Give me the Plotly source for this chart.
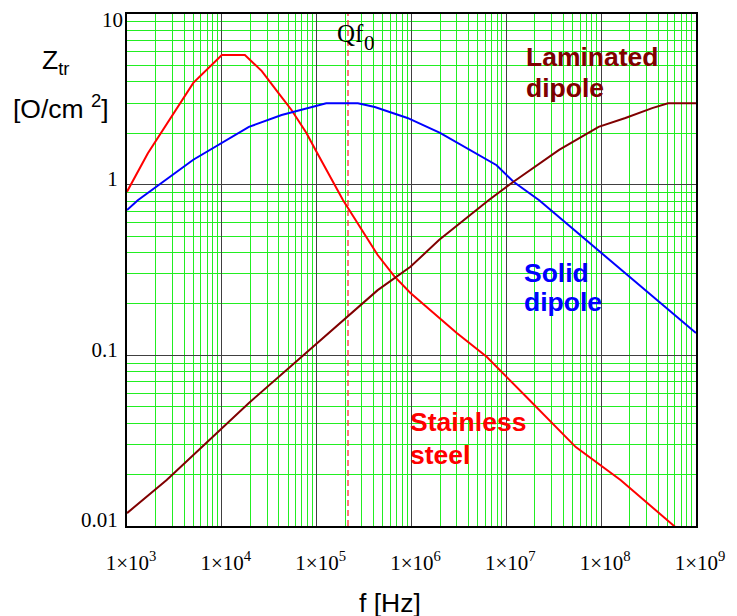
import numpy as np
import plotly.graph_objects as go

# ---- data ----
steel_f = [1e3, 1.66e3, 5.0e3, 1.0e4, 1.75e4, 2.64e4, 3.96e4, 5.43e4, 7.8e4, 9.7e4,
           1.9e5, 4.4e5, 6.6e5, 9.75e5, 3.0e6, 6.2e6, 1.63e7, 5.4e7, 1.6e8, 6.0e8]
steel_z = [0.91, 1.53, 3.95, 5.75, 5.75, 4.63, 3.44, 2.74, 2.01, 1.60,
           0.81, 0.387, 0.29, 0.232, 0.135, 0.098, 0.057, 0.029, 0.0186, 0.0099]

solid_f = [1e3, 1.3e3, 5e3, 1e4, 1.93e4, 4.27e4, 1.26e5, 2.72e5, 4.1e5, 9.06e5,
           2.0e6, 7.9e6, 1.19e7, 2.22e7, 6.9e7, 2.7e8, 1e9]
solid_z = [0.71, 0.81, 1.40, 1.75, 2.18, 2.56, 3.0, 3.0, 2.85, 2.46,
           2.01, 1.30, 1.04, 0.81, 0.474, 0.252, 0.135]

lam_f = [1e3, 2.62e3, 1.93e4, 2.14e5, 4.4e5, 9.75e5, 1.95e6, 6.5e6, 1.19e7, 3.6e7,
         9.4e7, 1.8e8, 3.45e8, 5.07e8, 1e9]
lam_z = [0.0119, 0.0186, 0.0526, 0.168, 0.241, 0.33, 0.474, 0.81, 1.04, 1.60,
         2.18, 2.46, 2.81, 3.0, 3.0]

f0 = 2.14e5
x_decades = [3, 4, 5, 6, 7, 8, 9]
y_ticks = [0.01, 0.1, 1]
y_ticktext = ["0.01", "0.1", "1"]
y_top_label = "10"
x_ticktext = ["1\u00d710<sup>%d</sup>" % d for d in x_decades]

x_minor = [m * 10.0 ** d for d in x_decades[:-1] for m in range(2, 10)]
y_minor = [m * 10.0 ** d for d in [-2, -1, 0] for m in range(2, 10)]

fig = go.Figure()
fig.add_trace(go.Scatter(x=[f0, f0], y=[0.01, 10], mode="lines",
                         line=dict(color="#ff3030", width=1.3, dash="6px,4px"),
                         hoverinfo="skip"))
fig.add_trace(go.Scatter(x=steel_f, y=steel_z, mode="lines",
                         line=dict(color="#ff0000", width=2), name="Stainless steel"))
fig.add_trace(go.Scatter(x=solid_f, y=solid_z, mode="lines",
                         line=dict(color="#0000ff", width=2), name="Solid dipole"))
fig.add_trace(go.Scatter(x=lam_f, y=lam_z, mode="lines",
                         line=dict(color="#800000", width=2), name="Laminated dipole"))

serif = "Liberation Serif, Times New Roman, serif"
sans = "Liberation Sans, Arial, sans-serif"

fig.update_xaxes(type="log", range=[3, 9], tickmode="array",
                 tickvals=[10.0 ** d for d in x_decades], ticktext=x_ticktext,
                 showgrid=True, gridcolor="#404040", gridwidth=1,
                 minor=dict(tickmode="array", tickvals=x_minor, showgrid=True,
                            gridcolor="#22ee22", gridwidth=1),
                 showline=True, mirror=True, linecolor="black", linewidth=2,
                 ticks="", zeroline=False,
                 tickfont=dict(family=serif, size=21, color="black"),
                 ticklabelstandoff=17, ticklabelshift=4)
fig.update_yaxes(type="log", range=[-2, 1], tickmode="array",
                 tickvals=y_ticks, ticktext=y_ticktext,
                 showgrid=True, gridcolor="#404040", gridwidth=1,
                 minor=dict(tickmode="array", tickvals=y_minor, showgrid=True,
                            gridcolor="#22ee22", gridwidth=1),
                 showline=True, mirror=True, linecolor="black", linewidth=2,
                 ticks="", zeroline=False,
                 tickfont=dict(family=serif, size=21, color="black"),
                 ticklabelstandoff=3, ticklabelshift=-6)

def ann(text, x, y, font, xanchor="left"):
    fig.add_annotation(text=text, x=x, y=y, xref="paper", yref="paper",
                       xanchor=xanchor, yanchor="middle", showarrow=False, font=font)

FS = 26.5
bold = lambda c: dict(family=sans, size=FS, color=c, weight="bold")
ann("<b>Laminated</b>", 0.697, 0.916, bold("#800000"))
ann("<b>dipole</b>", 0.697, 0.856, bold("#800000"))
ann("<b>Solid</b>", 0.695, 0.494, bold("#0000ff"))
ann("<b>dipole</b>", 0.695, 0.4375, bold("#0000ff"))
ann("<b>Stainless</b>", 0.494, 0.203, bold("#ff0000"))
ann("<b>steel</b>", 0.494, 0.139, bold("#ff0000"))

ann("Z<sub>tr</sub>", -0.153, 0.907, dict(family=sans, size=FS, color="black"))
ann("[O/cm <sup>2</sup>]", -0.204, 0.818, dict(family=sans, size=FS, color="black"))
ann("f [Hz]", 0.4617, -0.151, dict(family=sans, size=FS, color="black"), xanchor="center")
ann("Qf", 0.366, 0.962, dict(family=serif, size=25, color="black"))
ann("0", 0.413, 0.943, dict(family=serif, size=21, color="black"))
ann(y_top_label, -0.0035, 0.988, dict(family=serif, size=21, color="black"), xanchor="right")

fig.update_layout(width=737, height=616, showlegend=False,
                  plot_bgcolor="white", paper_bgcolor="white",
                  margin=dict(l=127, r=36, t=14, b=90))

fig.write_html("out.html", config={"displayModeBar": False},
               post_script="document.body.style.margin='0';document.body.style.padding='0';")
